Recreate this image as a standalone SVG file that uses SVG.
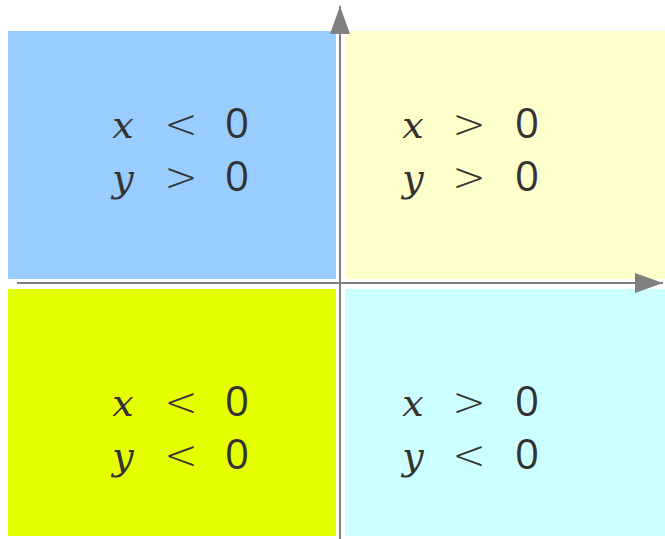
<svg xmlns="http://www.w3.org/2000/svg" width="665" height="539" viewBox="0 0 665 539">
<defs>
<style>
text{font-family:"Open Sans","Noto Sans",sans-serif;font-size:42px;fill:#333;text-anchor:middle}
.v{font-family:"DejaVu Serif",serif;font-style:italic;font-size:38px}
.o{font-family:"DejaVu Sans",sans-serif;font-weight:200;font-size:40px}
.ax{stroke:#808080;stroke-width:2;fill:none}
</style>
<marker id="ah" viewBox="0 0 28 20" refX="28" refY="10" markerWidth="28" markerHeight="20" markerUnits="userSpaceOnUse" orient="auto"><path d="M0,0 L28,10 L0,20 Z" fill="#808080"/></marker>
</defs>
<rect width="665" height="539" fill="#fff"/>
<g id="q2"><rect x="8" y="31" width="328" height="248" fill="#99ccff"/>
<text x="123" y="138" class="v">x</text><text x="181" y="138" class="o">&lt;</text><text x="237" y="138">0</text>
<text x="123" y="191" class="v">y</text><text x="181" y="191" class="o">&gt;</text><text x="237" y="191">0</text></g>
<g id="q1"><rect x="345" y="31" width="320" height="248" fill="#ffffcc"/>
<text x="413" y="138" class="v">x</text><text x="469" y="138" class="o">&gt;</text><text x="527" y="138">0</text>
<text x="413" y="191" class="v">y</text><text x="469" y="191" class="o">&gt;</text><text x="527" y="191">0</text></g>
<g id="q3"><rect x="8" y="289" width="328" height="247" fill="#e5ff00"/>
<text x="123" y="416" class="v">x</text><text x="181" y="416" class="o">&lt;</text><text x="237" y="416">0</text>
<text x="123" y="469" class="v">y</text><text x="181" y="469" class="o">&lt;</text><text x="237" y="469">0</text></g>
<g id="q4"><rect x="345" y="289" width="320" height="247" fill="#ccffff"/>
<text x="413" y="416" class="v">x</text><text x="469" y="416" class="o">&gt;</text><text x="527" y="416">0</text>
<text x="413" y="469" class="v">y</text><text x="469" y="469" class="o">&lt;</text><text x="527" y="469">0</text></g>
<g id="axes">
<line class="ax" x1="17" y1="283" x2="663" y2="283" marker-end="url(#ah)"/>
<line class="ax" x1="340" y1="539" x2="340" y2="6" marker-end="url(#ah)"/>
</g>
</svg>
